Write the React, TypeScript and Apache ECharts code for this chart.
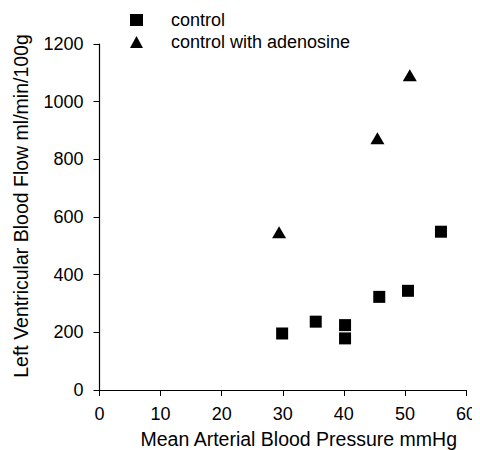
import React, { useEffect, useRef } from "react";
import * as echarts from "echarts";

const controlX = [29.9, 35.4, 40.2, 40.2, 45.8, 50.5, 55.9];
const controlY = [196, 237, 225, 179, 323, 344, 549];
const adenoX = [29.4, 45.5, 50.8];
const adenoY = [547, 873, 1092];
const xTicks = { min: 0, max: 60, interval: 10 };
const yTicks = { min: 0, max: 1200, interval: 200 };

const FONT = "Liberation Sans, Arial, Helvetica, sans-serif";

export default function App() {
  const ref = useRef<HTMLDivElement>(null);
  useEffect(() => {
    if (!ref.current) return;
    const chart = echarts.init(ref.current, undefined, { renderer: "svg" });
    chart.setOption({
      animation: false,
      backgroundColor: "#ffffff",
      textStyle: { fontFamily: FONT, color: "#000" },
      legend: {
        orient: "vertical",
        left: 125,
        top: 6,
        itemWidth: 13,
        itemHeight: 12,
        itemGap: 4,
        textStyle: { fontSize: 18, color: "#000", fontFamily: FONT, padding: [0, 0, 0, 23] },
        data: [
          { name: "control", icon: "rect" },
          { name: "control with adenosine", icon: "triangle" },
        ],
      },
      grid: { left: 99.5, right: 14, top: 44, bottom: 60, containLabel: false, outerBoundsMode: "none" },
      xAxis: {
        type: "value",
        min: xTicks.min,
        max: xTicks.max,
        interval: xTicks.interval,
        name: "Mean Arterial Blood Pressure mmHg",
        nameLocation: "middle",
        nameGap: 39,
        nameMoveOverlap: false,
        nameTextStyle: { fontSize: 19.5, color: "#000", fontFamily: FONT, padding: [0, 0, 0, 32] },
        axisLine: { show: true, lineStyle: { color: "#000", width: 1.2 } },
        axisTick: { show: true, inside: false, length: 6, lineStyle: { color: "#000" } },
        axisLabel: { fontSize: 18, color: "#000", margin: 15, fontFamily: FONT, formatter: (v: number) => String(v) },
        splitLine: { show: false },
      },
      yAxis: {
        type: "value",
        min: yTicks.min,
        max: yTicks.max,
        interval: yTicks.interval,
        name: "Left Ventricular Blood Flow ml/min/100g",
        nameLocation: "middle",
        nameGap: 69,
        nameRotate: 90,
        nameMoveOverlap: false,
        nameTextStyle: { fontSize: 19.5, color: "#000", fontFamily: FONT, padding: [0, 0, 0, 22] },
        axisLine: { show: true, lineStyle: { color: "#000", width: 1.2 } },
        axisTick: { show: true, inside: false, length: 6, lineStyle: { color: "#000" } },
        axisLabel: { fontSize: 18, color: "#000", margin: 16, fontFamily: FONT, formatter: (v: number) => String(v) },
        splitLine: { show: false },
      },
      series: [
        {
          name: "control",
          type: "scatter",
          symbol: "rect",
          symbolSize: 12,
          itemStyle: { color: "#000", opacity: 1 },
          data: controlX.map((x, i) => [x, controlY[i]]),
        },
        {
          name: "control with adenosine",
          type: "scatter",
          symbol: "triangle",
          symbolSize: [14, 12],
          itemStyle: { color: "#000", opacity: 1 },
          data: adenoX.map((x, i) => [x, adenoY[i]]),
        },
      ],
    });
    return () => chart.dispose();
  }, []);
  return <div ref={ref} style={{ width: 480, height: 450, margin: "-8px -8px 0 -8px" }} />;
}
